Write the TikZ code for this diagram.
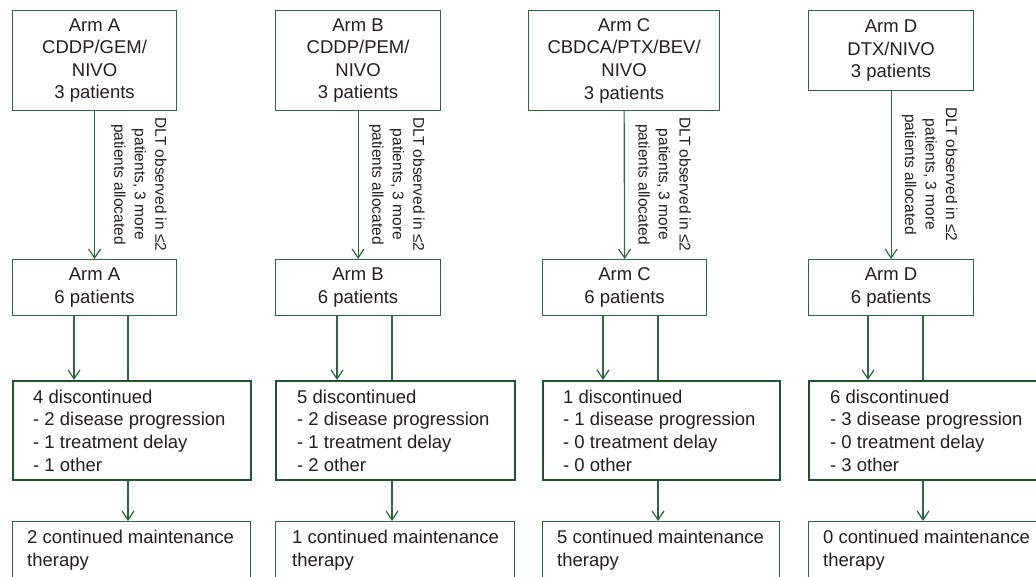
\documentclass[tikz,border=0pt]{standalone}
\usepackage{fontspec}
\setmainfont{Liberation Sans}
\usetikzlibrary{arrows.meta}
\definecolor{grn}{RGB}{44,104,64}
\definecolor{dgrn}{RGB}{30,86,48}
\definecolor{txt}{RGB}{35,31,32}
\tikzset{
  box/.style={draw=grn, line width=1.2pt, rectangle, anchor=north west, inner sep=0pt,
    text=txt, align=center, font=\fontsize{18.5}{22.6}\selectfont},
  dbox/.style={box, draw=dgrn, line width=2pt},
  lbl/.style={text=txt, align=center, rotate=-90, inner sep=0pt,
    font=\fontsize{15.5}{20.5}\selectfont},
  body/.style={text=txt, align=left, anchor=west, inner sep=0pt,
    font=\fontsize{18.5}{22.7}\selectfont},
  arr/.style={draw=grn, line width=1.2pt, -{Straight Barb[length=9pt,width=12pt]}},
  ln/.style={draw=grn, line width=1.2pt},
}
\begin{document}
\begin{tikzpicture}[x=1pt,y=-1pt]
\useasboundingbox (0,0) rectangle (1036,577);
\clip (0,0) rectangle (1036,577);

% ---------- Arm A ----------
\node[box, minimum width=164pt, minimum height=100pt] (a1) at (12,10) {Arm A\\CDDP/GEM/\\NIVO\\3 patients};
\node[box, minimum width=164pt, minimum height=56pt] (a2) at (12,259) {Arm A\\6 patients};
\node[dbox, minimum width=238pt, minimum height=99pt] (a3) at (12,380) {};
\node[box, minimum width=238pt, minimum height=57pt] (a4) at (12,521) {};
\node[body] (a3t) at ([xshift=21pt]a3.west) {4 discontinued\\- 2 disease progression\\- 1 treatment delay\\- 1 other};
\node[body] (a4t) at ([xshift=15pt]a4.west) {2 continued maintenance\\therapy};
\node[lbl] (al) at (139,184.5) {DLT observed in ≤2\\patients, 3 more\\patients allocated};
\coordinate (aL) at (74,0);
\coordinate (aR) at (128,0);
\draw[arr] (a1.south) -- (a2.north);
\draw[arr] (a2.south -| aL) -- (a3.north -| aL);
\draw[ln] (a2.south -| aR) -- (a3.north -| aR);
\draw[arr] (a3.south -| aR) -- (a4.north -| aR);

% ---------- Arm B ----------
\node[box, minimum width=165pt, minimum height=100pt] (b1) at (275,10) {Arm B\\CDDP/PEM/\\NIVO\\3 patients};
\node[box, minimum width=165pt, minimum height=56pt] (b2) at (275,259) {Arm B\\6 patients};
\node[dbox, minimum width=239pt, minimum height=99pt] (b3) at (275,380) {};
\node[box, minimum width=239pt, minimum height=57pt] (b4) at (275,521) {};
\node[body] (b3t) at ([xshift=22pt]b3.west) {5 discontinued\\- 2 disease progression\\- 1 treatment delay\\- 2 other};
\node[body] (b4t) at ([xshift=17pt]b4.west) {1 continued maintenance\\therapy};
\node[lbl] (bl) at (397,184.5) {DLT observed in ≤2\\patients, 3 more\\patients allocated};
\coordinate (bL) at (337,0);
\coordinate (bR) at (392,0);
\draw[arr] (b1.south) -- (b2.north);
\draw[arr] (b2.south -| bL) -- (b3.north -| bL);
\draw[ln] (b2.south -| bR) -- (b3.north -| bR);
\draw[arr] (b3.south -| bR) -- (b4.north -| bR);

% ---------- Arm C ----------
\node[box, minimum width=191pt, minimum height=100pt] (c1) at (528,10) {Arm C\\CBDCA/PTX/BEV/\\NIVO\\3 patients};
\node[box, minimum width=164pt, minimum height=56pt] (c2) at (542,259) {Arm C\\6 patients};
\node[dbox, minimum width=237pt, minimum height=99pt] (c3) at (542,380) {};
\node[box, minimum width=237pt, minimum height=57pt] (c4) at (542,521) {};
\node[body] (c3t) at ([xshift=21pt]c3.west) {1 discontinued\\- 1 disease progression\\- 0 treatment delay\\- 0 other};
\node[body] (c4t) at ([xshift=15pt]c4.west) {5 continued maintenance\\therapy};
\node[lbl] (cl) at (663,184.5) {DLT observed in ≤2\\patients, 3 more\\patients allocated};
\coordinate (cL) at (603,0);
\coordinate (cR) at (658,0);
\draw[arr] (c1.south) -- (c2.north);
\draw[arr] (c2.south -| cL) -- (c3.north -| cL);
\draw[ln] (c2.south -| cR) -- (c3.north -| cR);
\draw[arr] (c3.south -| cR) -- (c4.north -| cR);

% ---------- Arm D ----------
\node[box, minimum width=165pt, minimum height=80pt] (d1) at (808,10) {Arm D\\DTX/NIVO\\3 patients};
\node[box, minimum width=165pt, minimum height=56pt] (d2) at (808,259) {Arm D\\6 patients};
\node[dbox, minimum width=238pt, minimum height=99pt] (d3) at (808,380) {};
\node[box, minimum width=238pt, minimum height=57pt] (d4) at (808,521) {};
\node[body] (d3t) at ([xshift=22pt]d3.west) {6 discontinued\\- 3 disease progression\\- 0 treatment delay\\- 3 other};
\node[body] (d4t) at ([xshift=15pt]d4.west) {0 continued maintenance\\therapy};
\node[lbl] (dl) at (929.5,174.5) {DLT observed in ≤2\\patients, 3 more\\patients allocated};
\coordinate (dL) at (868,0);
\coordinate (dR) at (923,0);
\draw[arr] (d1.south) -- (d2.north);
\draw[arr] (d2.south -| dL) -- (d3.north -| dL);
\draw[ln] (d2.south -| dR) -- (d3.north -| dR);
\draw[arr] (d3.south -| dR) -- (d4.north -| dR);
\end{tikzpicture}
\end{document}
